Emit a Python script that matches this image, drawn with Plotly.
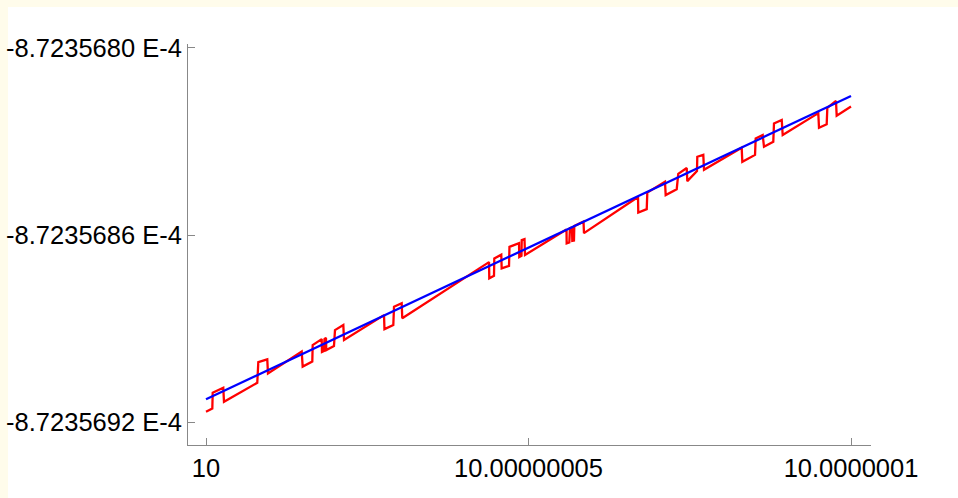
import plotly.graph_objects as go

# x offsets from 10, in units of 1e-9
red_x = [0, 0.98, 1.04, 2.68, 2.79, 7.95, 8.11, 9.50, 9.61, 14.84, 14.99, 16.48, 16.54,
         17.94, 17.98, 18.29, 18.37, 18.60, 18.65, 19.84, 20.0, 21.29, 21.40, 27.60, 27.67,
         29.04, 29.15, 30.34, 30.43, 43.88, 43.92, 44.65, 44.70, 45.78, 45.84, 46.98, 47.05,
         48.53, 48.57, 48.91, 48.95, 49.38, 49.46, 55.89, 55.92, 56.33, 56.43, 56.74, 56.79,
         57.05, 57.10, 58.53, 58.60, 66.98, 67.02, 68.33, 68.42, 71.16, 71.27, 72.98, 73.22,
         74.53, 74.62, 76.12, 76.17, 77.10, 77.21, 83.05, 83.15, 85.12, 85.22, 86.31, 86.51,
         87.95, 88.06, 89.26, 89.41, 94.93, 95.04, 96.23, 96.33, 97.67, 97.78, 100.0]
# y offsets from -8.7235680e-4, in units of 1e-12
red_y = [-116.7, -115.7, -110.6, -109.0, -113.5, -107.4, -100.8, -99.9, -104.4, -97.4, -102.2,
         -100.6, -95.3, -93.4, -97.5, -97.2, -93.4, -93.0, -96.9, -95.6, -90.5, -88.9, -93.7,
         -85.7, -90.2, -88.9, -83.0, -81.9, -86.7, -68.7, -73.9, -73.1, -67.5, -66.3, -70.7,
         -69.9, -63.8, -62.6, -67.1, -66.7, -61.6, -61.3, -66.4, -58.2, -62.7, -62.4, -57.8,
         -57.6, -61.9, -61.8, -57.1, -55.7, -59.4, -47.8, -52.8, -51.7, -46.4, -42.9, -47.2,
         -45.3, -40.4, -38.5, -42.7, -39.5, -34.9, -34.3, -39.1, -32.0, -36.5, -34.3, -29.0,
         -27.9, -31.7, -30.1, -24.2, -23.1, -27.9, -20.9, -25.6, -24.5, -19.2, -17.0, -21.7,
         -18.8]

blue_x = [0, 100]
blue_y = [-112.7, -15.4]

x_tick_vals = [0, 50, 100]
x_tick_text = ["10", "10.00000005", "10.0000001"]
y_tick_vals = [0, -60, -120]
y_tick_text = ["-8.7235680 E-4", "-8.7235686 E-4", "-8.7235692 E-4"]

fig = go.Figure()
fig.add_trace(go.Scatter(x=red_x, y=red_y, mode="lines",
                         line=dict(color="#FF0000", width=2.3), hoverinfo="skip"))
fig.add_trace(go.Scatter(x=blue_x, y=blue_y, mode="lines",
                         line=dict(color="#0000FF", width=2.3), hoverinfo="skip"))

W, H = 958, 498
L, R, T, B = 188, 87, 44, 53
pw, ph = W - L - R, H - T - B

# white panel inside the cream frame (frame: 8 px on the left, 7 px on top)
fig.add_shape(type="rect", xref="paper", yref="paper", layer="below",
              x0=(8 - L) / pw, x1=(W - L) / pw,
              y0=(H - B - H) / ph, y1=(H - B - 7) / ph,
              fillcolor="white", line=dict(width=0))

font = dict(family="Liberation Sans, Arial, sans-serif", size=25.5, color="black")
axcol = "#888888"
fig.update_layout(
    width=W, height=H, autosize=False,
    margin=dict(l=L, r=R, t=T, b=B, pad=0),
    paper_bgcolor="#FFFCEB", plot_bgcolor="white",
    showlegend=False,
    xaxis=dict(range=[-2.79, 103.10], tickvals=x_tick_vals, ticktext=x_tick_text,
               automargin=False,
               showgrid=False, zeroline=False, showline=True, linecolor=axcol, linewidth=1,
               ticks="inside", ticklen=7, tickcolor=axcol, tickwidth=1, tickfont=font),
    yaxis=dict(range=[-127.37, 1.28], tickvals=y_tick_vals, ticktext=y_tick_text,
               automargin=False,
               showgrid=False, zeroline=False, showline=True, linecolor=axcol, linewidth=1,
               ticks="inside", ticklen=7, tickcolor=axcol, tickwidth=1, tickfont=font),
)
fig.write_html("out.html", config={"displayModeBar": False})
